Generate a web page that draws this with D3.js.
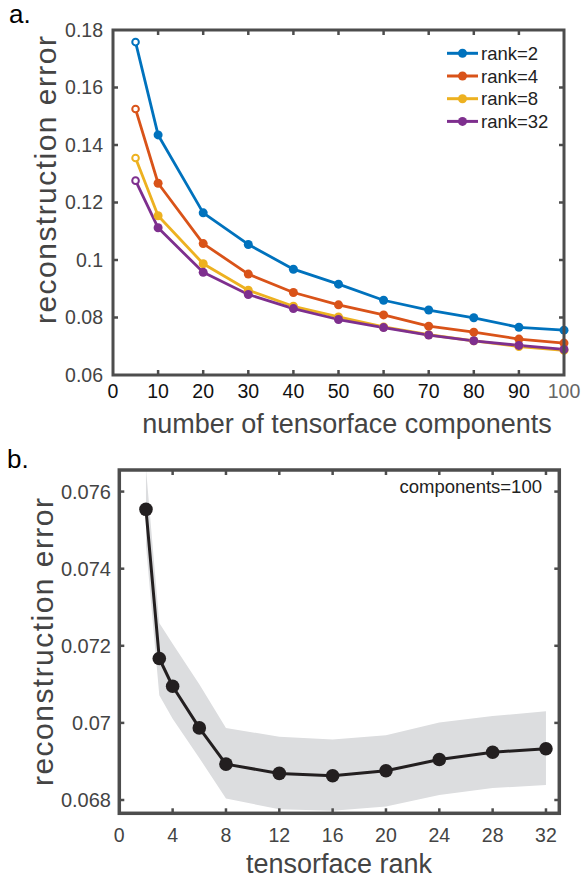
<!DOCTYPE html>
<html><head><meta charset="utf-8">
<script src="https://cdn.jsdelivr.net/npm/d3@7/dist/d3.min.js"></script>
<style>body{margin:0;background:#fff}svg{display:block;font-family:"Liberation Sans",Arial,sans-serif}</style>
</head><body><svg id="c" width="582" height="879"></svg>
<script>
// ---- Data: panel a ----
const components = [5,10,20,30,40,50,60,70,80,90,100];
const seriesNames = ["rank=2","rank=4","rank=8","rank=32"];
const rank2  = [0.1758,0.1435,0.1164,0.1054,0.0968,0.0916,0.0860,0.0826,0.0799,0.0766,0.0756];
const rank4  = [0.1525,0.1267,0.1057,0.0951,0.0887,0.0844,0.0809,0.0770,0.0749,0.0725,0.0711];
const rank8  = [0.1355,0.1154,0.0987,0.0895,0.0839,0.0802,0.0767,0.0740,0.0719,0.0699,0.0686];
const rank32 = [0.1276,0.1112,0.0957,0.0880,0.0831,0.0793,0.0765,0.0739,0.0719,0.0703,0.0689];
const colorsA = ["#0072BD","#D95319","#EDB120","#7E2F8E"];
const xTicksA = [0,10,20,30,40,50,60,70,80,90,100];
const yTicksA = [0.06,0.08,0.1,0.12,0.14,0.16,0.18];
// ---- Data: panel b ----
const ranks = [2,3,4,6,8,12,16,20,24,28,32];
const errB  = [0.07554,0.07167,0.07095,0.06987,0.06893,0.06869,0.06863,0.06876,0.06905,0.06924,0.06933];
const bandUpper = [0.0766,0.07259,0.07205,0.07100,0.06987,0.06964,0.06957,0.06968,0.07001,0.07018,0.07030];
const bandLower = [0.0746,0.07072,0.07011,0.06909,0.06804,0.06776,0.06772,0.06783,0.06813,0.06831,0.06839];
const xTicksB = [0,4,8,12,16,20,24,28,32];
const yTicksB = [0.068,0.07,0.072,0.074,0.076];

const svg = d3.select("#c");
const axisCol = "#4d4d4d";

// ================= Panel a =================
const A = {l:113, r:564, t:30, b:375};
const xa = d3.scaleLinear().domain([0,100]).range([A.l,A.r]);
const ya = d3.scaleLinear().domain([0.06,0.18]).range([A.b,A.t]);
const ga = svg.append("g");
const seriesA = [rank2,rank4,rank8,rank32];
const tickLen = 5;
xTicksA.slice(1,-1).forEach(v=>{
  ga.append("line").attr("x1",xa(v)).attr("x2",xa(v)).attr("y1",A.b).attr("y2",A.b-tickLen).attr("stroke",axisCol).attr("stroke-width",2.5);
  ga.append("line").attr("x1",xa(v)).attr("x2",xa(v)).attr("y1",A.t).attr("y2",A.t+tickLen).attr("stroke",axisCol).attr("stroke-width",2.5);
});
yTicksA.slice(1,-1).forEach(v=>{
  ga.append("line").attr("x1",A.l).attr("x2",A.l+tickLen).attr("y1",ya(v)).attr("y2",ya(v)).attr("stroke",axisCol).attr("stroke-width",2.5);
  ga.append("line").attr("x1",A.r).attr("x2",A.r-tickLen).attr("y1",ya(v)).attr("y2",ya(v)).attr("stroke",axisCol).attr("stroke-width",2.5);
});
xTicksA.forEach(v=>{
  ga.append("text").attr("x",xa(v)).attr("y",398).attr("text-anchor","middle")
    .attr("font-size",19.5).attr("fill", v===100?"#666":"#111").text(v);
});
yTicksA.forEach(v=>{
  ga.append("text").attr("x",103).attr("y",ya(v)+6.5).attr("text-anchor","end")
    .attr("font-size",19.5).attr("fill","#444").text(String(+v.toFixed(2)));
});
const lineA = d3.line().x((d,i)=>xa(components[i])).y(d=>ya(d));
seriesA.forEach((s,k)=>{
  ga.append("path").attr("d",lineA(s)).attr("fill","none").attr("stroke",colorsA[k]).attr("stroke-width",2.8).attr("stroke-linejoin","round");
});
seriesA.forEach((s,k)=>{
  s.forEach((d,i)=>{
    const open = i===0;
    ga.append("circle").attr("cx",xa(components[i])).attr("cy",ya(d))
      .attr("r", open?3.3:4.5)
      .attr("fill", open?"#fff":colorsA[k])
      .attr("stroke",colorsA[k]).attr("stroke-width", open?2:0);
  });
});
ga.append("rect").attr("x",A.l).attr("y",A.t).attr("width",A.r-A.l).attr("height",A.b-A.t)
  .attr("fill","none").attr("stroke",axisCol).attr("stroke-width",3);
seriesNames.forEach((n,k)=>{
  const y = 53.3 + k*22.7;
  ga.append("line").attr("x1",447).attr("x2",478).attr("y1",y).attr("y2",y).attr("stroke",colorsA[k]).attr("stroke-width",3);
  ga.append("circle").attr("cx",462.5).attr("cy",y).attr("r",4.5).attr("fill",colorsA[k]);
  ga.append("text").attr("x",481).attr("y",y+6.5).attr("font-size",18.5).attr("fill","#222").text(n);
});
ga.append("text").attr("x",347).attr("y",433).attr("text-anchor","middle").attr("font-size",27).attr("fill","#444").text("number of tensorface components");
ga.append("text").attr("transform",`translate(56,180) rotate(-90)`).attr("text-anchor","middle")
  .attr("font-size",30).attr("fill","#444").attr("textLength",288).attr("lengthAdjust","spacing").text("reconstruction error");
svg.append("text").attr("x",9).attr("y",23).attr("font-size",26).attr("fill","#000").text("a.");

// ================= Panel b =================
const B = {l:119.3, r:559.3, t:470, b:813.3};
const xb = d3.scaleLinear().domain([0,33]).range([B.l,B.r]);
const yb = d3.scaleLinear().domain([0.067655,0.07656]).range([B.b,B.t]);
const gb = svg.append("g");
svg.append("defs").append("clipPath").attr("id","clipB").append("rect")
  .attr("x",B.l).attr("y",B.t).attr("width",B.r-B.l).attr("height",B.b-B.t);
const area = d3.area().x((d,i)=>xb(ranks[i])).y0((d,i)=>yb(bandLower[i])).y1(d=>yb(d));
gb.append("path").attr("d",area(bandUpper)).attr("fill","#dcdddf").attr("clip-path","url(#clipB)");
const lineB = d3.line().x((d,i)=>xb(ranks[i])).y(d=>yb(d));
gb.append("path").attr("d",lineB(errB)).attr("fill","none").attr("stroke","#231f20").attr("stroke-width",3).attr("stroke-linejoin","round");
errB.forEach((d,i)=>{
  gb.append("circle").attr("cx",xb(ranks[i])).attr("cy",yb(d)).attr("r",6.8).attr("fill","#231f20");
});
xTicksB.slice(1).forEach(v=>{
  gb.append("line").attr("x1",xb(v)).attr("x2",xb(v)).attr("y1",B.b).attr("y2",B.b-tickLen).attr("stroke",axisCol).attr("stroke-width",2.5);
  gb.append("line").attr("x1",xb(v)).attr("x2",xb(v)).attr("y1",B.t).attr("y2",B.t+tickLen).attr("stroke",axisCol).attr("stroke-width",2.5);
});
yTicksB.forEach(v=>{
  gb.append("line").attr("x1",B.l).attr("x2",B.l+tickLen).attr("y1",yb(v)).attr("y2",yb(v)).attr("stroke",axisCol).attr("stroke-width",2.5);
  gb.append("line").attr("x1",B.r).attr("x2",B.r-tickLen).attr("y1",yb(v)).attr("y2",yb(v)).attr("stroke",axisCol).attr("stroke-width",2.5);
});
gb.append("rect").attr("x",B.l).attr("y",B.t).attr("width",B.r-B.l).attr("height",B.b-B.t)
  .attr("fill","none").attr("stroke",axisCol).attr("stroke-width",3.5);
xTicksB.forEach(v=>{
  gb.append("text").attr("x",xb(v)).attr("y",842).attr("text-anchor","middle").attr("font-size",19.5).attr("fill","#444").text(v);
});
yTicksB.forEach(v=>{
  gb.append("text").attr("x",111).attr("y",yb(v)+7).attr("text-anchor","end").attr("font-size",20).attr("fill","#444").text(String(+v.toFixed(3)));
});
gb.append("text").attr("x",542).attr("y",493).attr("text-anchor","end").attr("font-size",18.5).attr("fill","#222").text("components=100");
gb.append("text").attr("x",339).attr("y",873).attr("text-anchor","middle").attr("font-size",27).attr("fill","#444").text("tensorface rank");
gb.append("text").attr("transform",`translate(53,642) rotate(-90)`).attr("text-anchor","middle")
  .attr("font-size",30).attr("fill","#444").attr("textLength",288).attr("lengthAdjust","spacing").text("reconstruction error");
svg.append("text").attr("x",7).attr("y",468).attr("font-size",26).attr("fill","#000").text("b.");
</script></body></html>
